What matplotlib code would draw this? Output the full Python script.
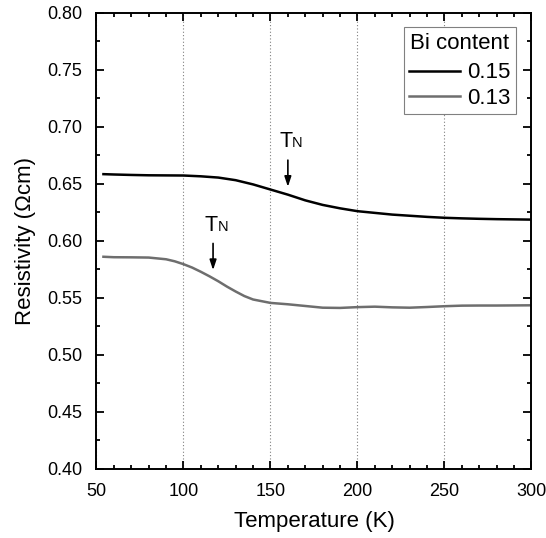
import matplotlib
matplotlib.use("Agg")
import matplotlib.pyplot as plt
from matplotlib.ticker import MultipleLocator

plt.rcParams["font.family"] = ["Liberation Sans", "DejaVu Sans"]

# Bi content 0.15
temp_015 = [54, 60, 70, 80, 90, 100, 110, 120, 130, 140, 150, 160, 170, 180,
            190, 200, 210, 220, 230, 240, 250, 260, 270, 280, 290, 300]
rho_015 = [0.6585, 0.6582, 0.6578, 0.6575, 0.6574, 0.6573, 0.6566, 0.6555,
           0.6532, 0.6495, 0.645, 0.6405, 0.6355, 0.6315, 0.6285, 0.626,
           0.6245, 0.623, 0.622, 0.621, 0.6202, 0.6197, 0.6193, 0.619,
           0.6188, 0.6186]

# Bi content 0.13
temp_013 = [54, 60, 70, 80, 90, 95, 100, 105, 110, 115, 120, 125, 130, 135,
            140, 150, 160, 170, 180, 190, 200, 210, 220, 230, 240, 250,
            260, 270, 280, 290, 300]
rho_013 = [0.586, 0.5856, 0.5855, 0.5853, 0.5838, 0.582, 0.5795, 0.5765,
           0.5728, 0.5688, 0.5645, 0.5598, 0.5555, 0.5515, 0.5485, 0.5455,
           0.5443, 0.5428, 0.5413, 0.5411, 0.5418, 0.5422, 0.5416, 0.5413,
           0.5419, 0.5426, 0.5431, 0.5432, 0.5432, 0.5433, 0.5434]

labels = ["0.15", "0.13"]
tn_x = [160, 117]
tn_tip = [0.6474, 0.5743]
tn_top = [0.6708, 0.5977]
tn_base = [0.6825, 0.6085]

fig = plt.figure(figsize=(5.46, 5.38), dpi=100)
ax = fig.add_axes([0.1767, 0.1288, 0.7967, 0.8472])

ax.plot(temp_015, rho_015, color="black", lw=1.8, label=labels[0])
ax.plot(temp_013, rho_013, color="#6e6e6e", lw=1.8, label=labels[1])

for x, tip, top, base in zip(tn_x, tn_tip, tn_top, tn_base):
    ax.annotate("", xy=(x, tip), xytext=(x, top),
                arrowprops=dict(arrowstyle="-|>,head_length=0.6,head_width=0.2",
                                color="black", lw=1.2, shrinkA=0, shrinkB=0))
    ax.text(x + 2.5, base, "T", fontsize=15.5, ha="right", va="baseline")
    ax.text(x + 2.5, base, "N", fontsize=10.5, ha="left", va="baseline")

ax.set_xlim(50, 300)
ax.set_ylim(0.40, 0.80)
ax.xaxis.set_major_locator(MultipleLocator(50))
ax.xaxis.set_minor_locator(MultipleLocator(10))
ax.yaxis.set_major_locator(MultipleLocator(0.05))
ax.yaxis.set_minor_locator(MultipleLocator(0.025))
ax.yaxis.set_major_formatter(plt.FormatStrFormatter("%.2f"))
ax.tick_params(which="both", direction="in", top=True, right=True,
               labelsize=13, width=1.3)
ax.tick_params(which="major", length=6)
ax.tick_params(axis="x", which="major", pad=10)
ax.tick_params(axis="y", which="major", pad=10)
ax.tick_params(which="minor", length=3)
for s in ax.spines.values():
    s.set_linewidth(1.4)

ax.grid(axis="x", which="major", linestyle=(0, (1, 2)), color="#808080", lw=0.8)

ax.set_xlabel("Temperature (K)", fontsize=16, labelpad=8)
ax.set_ylabel("Resistivity (\u03a9cm)", fontsize=16, labelpad=8)

leg = ax.legend(title="Bi content", loc="upper right", fontsize=16,
                title_fontsize=16, fancybox=False, edgecolor="#808080",
                framealpha=1, handlelength=2.3, borderpad=0.25,
                labelspacing=0.2, handletextpad=0.3, borderaxespad=0,
                bbox_to_anchor=(0.9644, 0.968))
leg.get_frame().set_linewidth(0.8)
leg._legend_box.sep = 6

fig.savefig("out.png", dpi=100)
